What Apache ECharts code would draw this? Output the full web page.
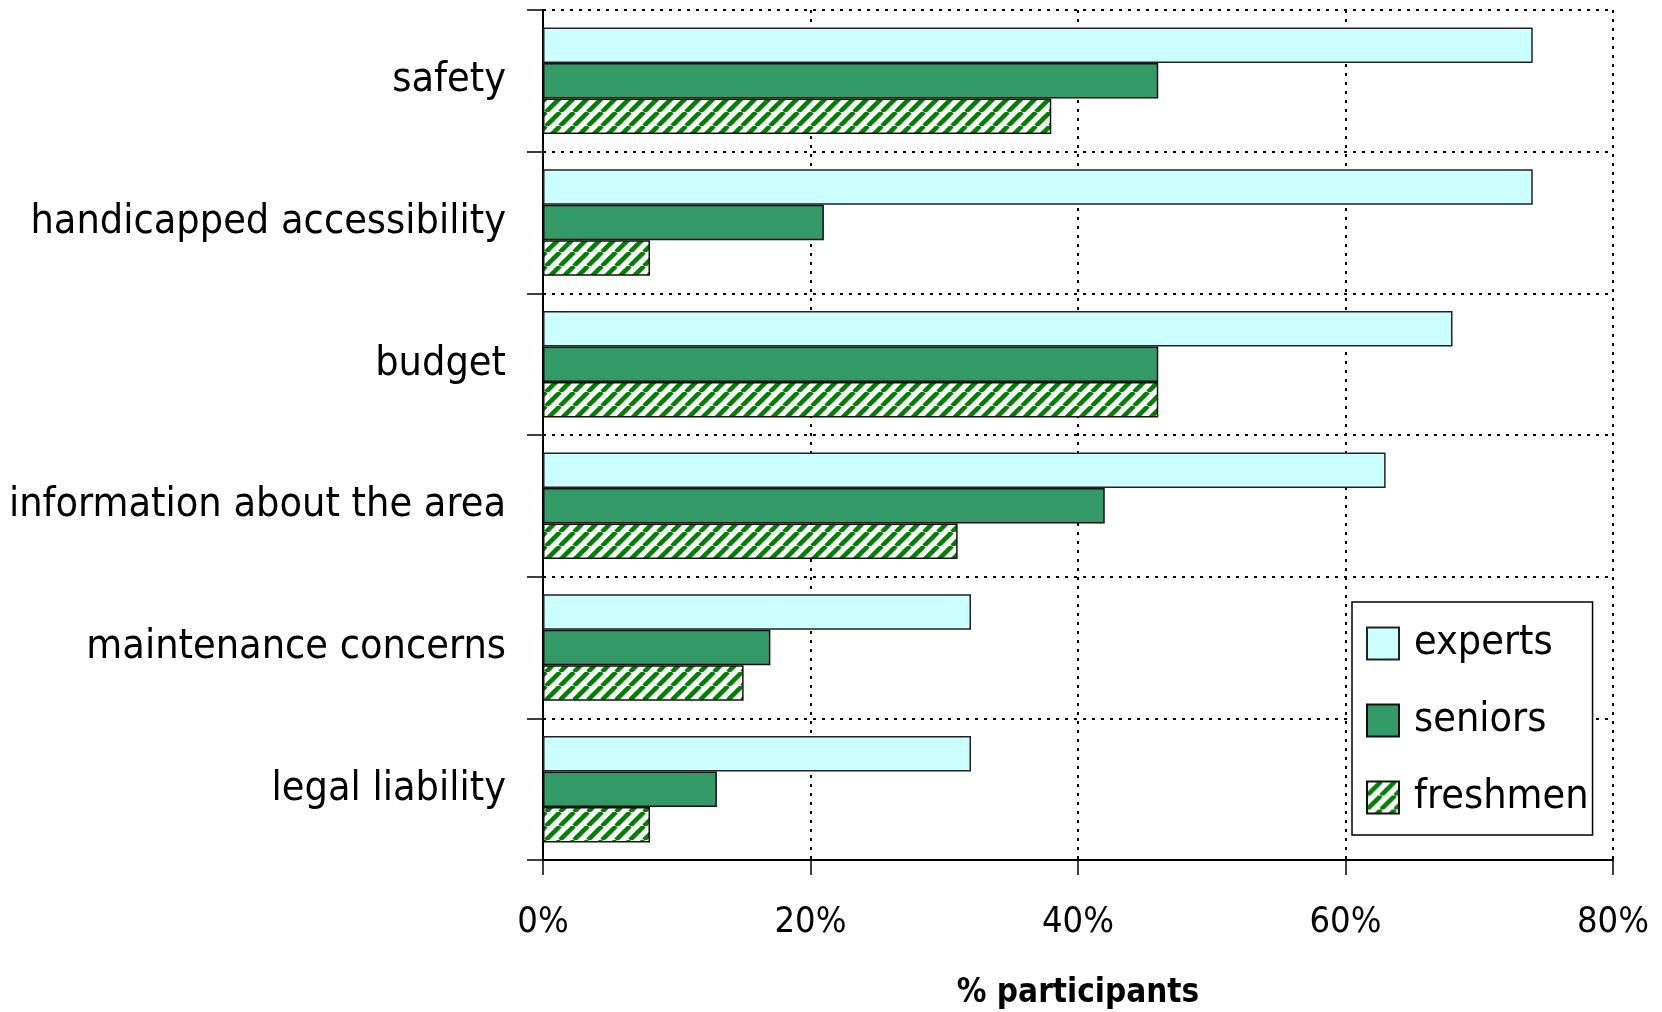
<!DOCTYPE html>
<html>
<head>
<meta charset="utf-8">
<script src="https://cdn.jsdelivr.net/npm/echarts@6/dist/echarts.min.js"></script>
<style>
html,body{margin:0;padding:0;background:#fff;}
#chart{width:1662px;height:1012px;}
</style>
</head>
<body>
<div id="chart"></div>
<script>
var categories = ['safety', 'handicapped accessibility', 'budget', 'information about the area', 'maintenance concerns', 'legal liability'];
var seriesNames = ['experts', 'seniors', 'freshmen'];
var experts = [74, 74, 68, 63, 32, 32];
var seniors = [46, 21, 46, 42, 17, 13];
var freshmen = [38, 8, 46, 31, 15, 8];
var xTicks = [0, 20, 40, 60, 80];

var FONT = "'Liberation Sans Narrow', 'DejaVu Sans Condensed', 'Noto Sans', sans-serif";

function makeHatch() {
  var P = 14;
  var c = document.createElement('canvas');
  c.width = P; c.height = P;
  var g = c.getContext('2d');
  g.fillStyle = '#ffffff';
  g.fillRect(0, 0, P, P);
  g.strokeStyle = '#008000';
  g.lineWidth = 4.5;
  for (var k = -1; k <= 1; k++) {
    g.beginPath();
    g.moveTo(k * P, P);
    g.lineTo(k * P + P, 0);
    g.stroke();
  }
  return c;
}
var hatch = { image: makeHatch(), repeat: 'repeat' };

var chart = echarts.init(document.getElementById('chart'), null, { renderer: 'canvas' });
var barW = 35.5;
var option = {
  animation: false,
  backgroundColor: '#ffffff',
  grid: { left: 543, right: 49, top: 10, bottom: 152, containLabel: false, outerBoundsMode: 'none' },
  legend: {
    orient: 'vertical',
    left: 1352,
    top: 602,
    selectedMode: false,
    icon: 'rect',
    itemWidth: 32,
    itemHeight: 32,
    itemGap: 36,
    padding: [21, 4, 17, 14],
    backgroundColor: '#ffffff',
    borderColor: '#000000',
    borderWidth: 1.5,
    textStyle: { fontFamily: FONT, fontSize: 41, color: '#000', padding: [0, 0, 0, 10] },
    data: seriesNames
  },
  xAxis: {
    type: 'value',
    min: 0,
    max: 80,
    interval: 20,
    position: 'bottom',
    axisLine: { show: true, lineStyle: { color: '#000', width: 2 } },
    axisTick: { show: true, length: 15, lineStyle: { color: '#000', width: 1.5 } },
    axisLabel: { formatter: '{value}%', fontFamily: FONT, fontSize: 36, color: '#000', margin: 45 },
    splitLine: { show: true, lineStyle: { color: '#000', width: 2, type: [3, 6] } },
    name: '% participants',
    nameLocation: 'middle',
    nameGap: 117,
    nameTextStyle: { fontFamily: FONT, fontSize: 33, fontWeight: 'bold', color: '#000' }
  },
  yAxis: {
    type: 'category',
    data: categories,
    inverse: true,
    axisLine: { show: true, lineStyle: { color: '#000', width: 2 } },
    axisTick: { show: true, length: 16, lineStyle: { color: '#000', width: 1.5 } },
    axisLabel: { fontFamily: FONT, fontSize: 41, color: '#000', margin: 37 },
    splitLine: { show: true, lineStyle: { color: '#000', width: 2, type: [3, 6] } }
  },
  series: [
    {
      name: seriesNames[0], type: 'bar', data: experts, barWidth: barW, barGap: '0%',
      itemStyle: { color: '#CCFFFF', borderColor: '#222', borderWidth: 1.5 }
    },
    {
      name: seriesNames[1], type: 'bar', data: seniors, barWidth: barW, barGap: '0%',
      itemStyle: { color: '#339966', borderColor: '#111', borderWidth: 1.5 }
    },
    {
      name: seriesNames[2], type: 'bar', data: freshmen, barWidth: barW, barGap: '0%',
      itemStyle: { color: hatch, borderColor: '#111', borderWidth: 1.5 }
    }
  ]
};
chart.setOption(option);
</script>
</body>
</html>
